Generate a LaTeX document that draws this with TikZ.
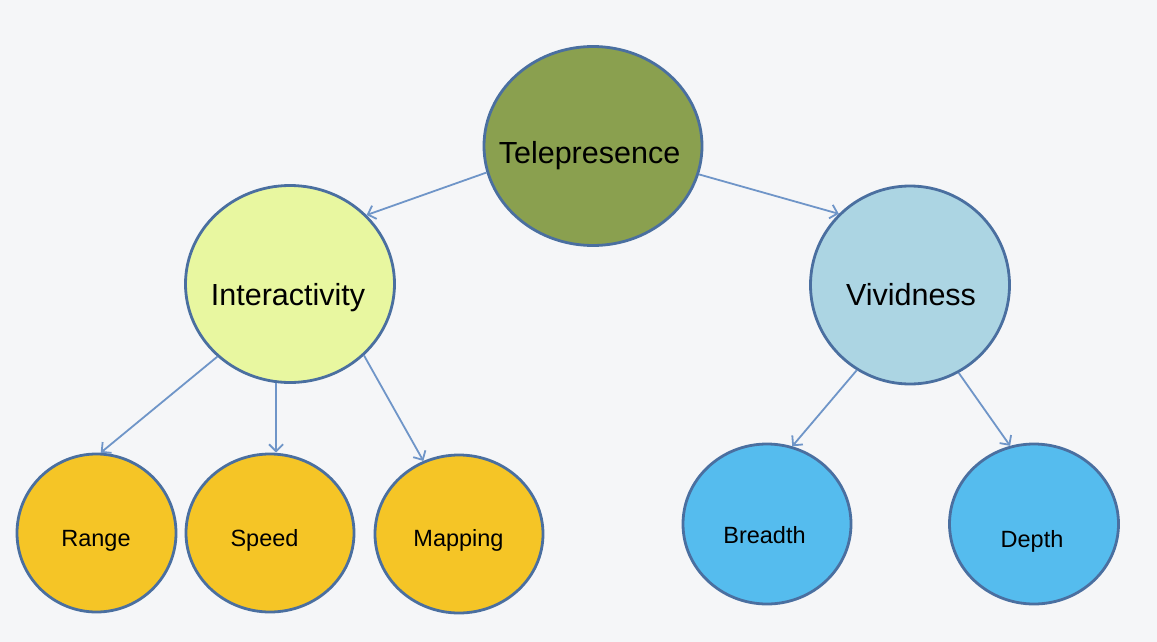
\documentclass[tikz,border=0pt]{standalone}
\usepackage{fontspec}
\setmainfont{Liberation Sans}
\usetikzlibrary{arrows.meta,shapes.geometric}
\definecolor{bg}{HTML}{F5F6F8}
\definecolor{outl}{HTML}{4A6FA0}
\definecolor{arr}{HTML}{6F95C8}
\definecolor{cTele}{HTML}{8AA04F}
\definecolor{cInter}{HTML}{E8F7A0}
\definecolor{cViv}{HTML}{ACD5E3}
\definecolor{cGold}{HTML}{F5C526}
\definecolor{cBlue}{HTML}{55BCEE}
\tikzset{
  bubble/.style={ellipse, draw=outl, line width=2.8pt, inner sep=0pt},
  bigtext/.style={anchor=base, font=\fontsize{30.5}{30}\selectfont, inner sep=0pt},
  smalltext/.style={anchor=base, font=\fontsize{23.5}{24}\selectfont, inner sep=0pt},
  link/.style={draw=arr, line width=1.8pt, -{Straight Barb[length=7pt,width=14pt,line width=1.8pt]}},
}
\begin{document}
\begin{tikzpicture}[x=1pt,y=-1pt]
\fill[bg] (0,0) rectangle (1157,642);
\useasboundingbox (0,0) rectangle (1157,642);
% nodes
\node[bubble, fill=cTele, minimum width=218pt, minimum height=199pt] (tele) at (593,146) {};
\node[bubble, fill=cInter, minimum width=209pt, minimum height=197pt] (inter) at (290,284) {};
\node[bubble, fill=cViv, minimum width=199pt, minimum height=198pt] (viv) at (910,285) {};
\node[bubble, fill=cGold, minimum width=159pt, minimum height=158pt] (range) at (96.5,533) {};
\node[bubble, fill=cGold, minimum width=168pt, minimum height=158pt] (speed) at (270,533) {};
\node[bubble, fill=cGold, minimum width=168pt, minimum height=158pt] (mapping) at (459,534) {};
\node[bubble, fill=cBlue, minimum width=168pt, minimum height=160pt] (breadth) at (767,524) {};
\node[bubble, fill=cBlue, minimum width=169pt, minimum height=160pt] (depth) at (1034,524) {};
% labels
\node[bigtext] (teleT) at (589.5,163) {Telepresence};
\node[bigtext] (interT) at (288,305) {Interactivity};
\node[bigtext] (vivT) at (911,305) {Vividness};
\node[smalltext] (rangeT) at (96,546) {Range};
\node[smalltext] (speedT) at (264.5,546) {Speed};
\node[smalltext] (mappingT) at (458.5,546) {Mapping};
\node[smalltext] (breadthT) at (764.5,543) {Breadth};
\node[smalltext] (depthT) at (1032,547) {Depth};
% connectors
\draw[link] (tele.194.8) -- (inter.42.7);
\draw[link] (tele.-15.7) -- (viv.135.8);
\draw[link] (inter.-135.8) -- (range.87);
\draw[link] (inter.-98.6) -- (inter.-98.6 |- speed.north);
\draw[link] (inter.-44.2) -- (mapping.116);
\draw[link] (viv.-122) -- (breadth.72.4);
\draw[link] (viv.-61) -- (depth.107.8);
\end{tikzpicture}
\end{document}
